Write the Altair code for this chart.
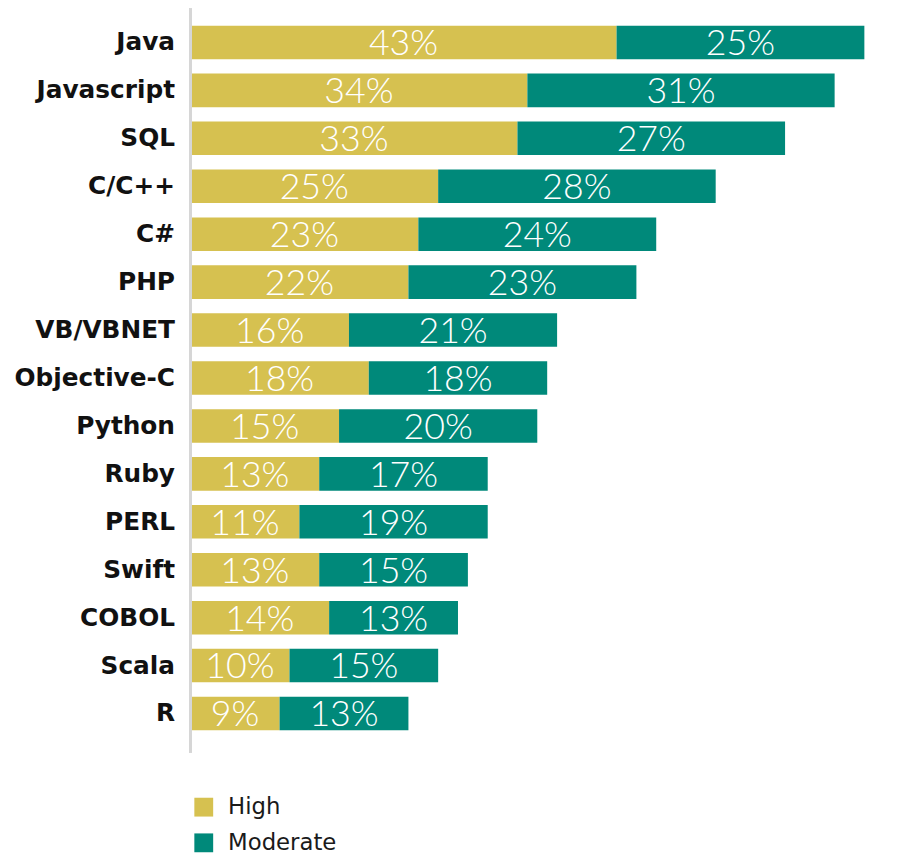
import altair as alt
import pandas as pd

languages = ["Java", "Javascript", "SQL", "C/C++", "C#", "PHP", "VB/VBNET",
             "Objective-C", "Python", "Ruby", "PERL", "Swift", "COBOL", "Scala", "R"]
high = [43, 34, 33, 25, 23, 22, 16, 18, 15, 13, 11, 13, 14, 10, 9]
moderate = [25, 31, 27, 28, 24, 23, 21, 18, 20, 17, 19, 15, 13, 15, 13]
series = ["High", "Moderate"]
colors = ["#D6C150", "#00897A"]

rows = []
for lang, h, m in zip(languages, high, moderate):
    rows.append({"lang": lang, "series": "High", "value": h, "order": 0, "label": f"{h}%"})
    rows.append({"lang": lang, "series": "Moderate", "value": m, "order": 1, "label": f"{m}%"})
df = pd.DataFrame(rows)

W = 718
H = 739

yscale = alt.Scale(paddingInner=0.3, paddingOuter=0.29, round=False)

yenc = alt.Y("lang:N", sort=languages, scale=yscale,
             axis=alt.Axis(title=None, domain=False, ticks=False, labelFont="DejaVu Sans",
                           labelFontSize=25, labelFontWeight="bold", labelColor="#111111",
                           labelPadding=16))

base = alt.Chart(df)

bars = base.mark_bar().encode(
    y=yenc,
    x=alt.X("value:Q", stack="zero", scale=alt.Scale(domain=[0, 71.8], nice=False),
            axis=None),
    color=alt.Color("series:N", scale=alt.Scale(domain=series, range=colors),
                    legend=alt.Legend(title=None, orient="none", legendX=2, legendY=791,
                                      symbolType="square", symbolSize=361,
                                      symbolStrokeWidth=0, symbolOpacity=1,
                                      labelFont="DejaVu Sans", labelFontSize=23,
                                      labelColor="#1a1a1a",
                                      labelOffset=13, rowPadding=12, direction="vertical")),
    order=alt.Order("order:Q"),
)

text = base.transform_stack(
    stack="value", as_=["v0", "v1"], groupby=["lang"], sort=[alt.SortField("order")]
).transform_calculate(
    mid="(datum.v0 + datum.v1) / 2"
).mark_text(font="Lato", fontWeight=300, fontSize=36, color="white",
            align="center", baseline="middle", dy=2).encode(
    y=alt.Y("lang:N", sort=languages),
    x=alt.X("mid:Q"),
    text="label:N",
)

axis_line = alt.Chart(df).mark_rule(color="#d6d6d6", strokeWidth=2.5).encode(
    x=alt.value(0), y=alt.value(-3), y2=alt.value(747)
)

chart = alt.layer(bars, text, axis_line).properties(
    width=W, height=H,
    autosize=alt.AutoSizeParams(type="none"),
    padding={"left": 184, "top": 0, "right": 3, "bottom": 108},
).configure_view(stroke=None)

chart.save("out.html", embed_options={"renderer": "svg", "actions": False})
